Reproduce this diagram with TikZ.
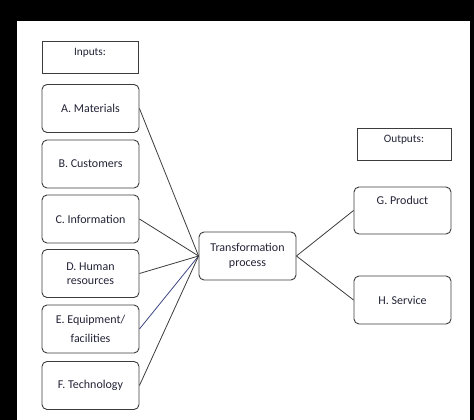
\documentclass[tikz,border=0pt]{standalone}
\usepackage{fontspec}
\setmainfont{Carlito}
\usetikzlibrary{positioning}
\definecolor{txtcol}{RGB}{35,35,55}
\definecolor{edgecol}{RGB}{60,60,60}
\definecolor{bluecol}{RGB}{60,70,130}
\tikzset{
    headbox/.style={rectangle, draw=edgecol, line width=0.9pt, minimum width=96pt, minimum height=32pt, text depth=10pt, font=\fontsize{11.3}{13}\selectfont, text=txtcol},
    itembox/.style={rectangle, rounded corners=5pt, draw=edgecol, line width=0.9pt, minimum width=97pt, minimum height=48pt, align=center, font=\fontsize{12}{14.5}\selectfont, text=txtcol},
    link/.style={draw=edgecol, line width=0.8pt}
}
\begin{document}
\begin{tikzpicture}[x=1pt,y=-1pt]
            \useasboundingbox (0,0) rectangle (474,420);
            % frame
            \fill[black] (0,0) rectangle (474,21);
            \fill[black] (0,21) rectangle (17,420);
            \fill[black] (470,21) rectangle (474,420);
            % Inputs
            \node[headbox] (inputs) at (90,57) {Inputs:};
            \node[itembox] (materials) at (90.5,108.5) {A. Materials};
            \node[itembox] (customers) at (90.5,164) {B. Customers};
            \node[itembox] (information) at (90.5,219) {C. Information};
            \node[itembox] (human) at (90.5,273.5) {D. Human\\resources};
            \node[itembox] (equipment) at (90.5,329) {E. Equipment/\\[5pt]facilities};
            \node[itembox] (technology) at (90.5,385.5) {F. Technology};
            % Process
            \node[itembox] (process) at (247.5,256) {Transformation\\process};
            % Outputs
            \node[headbox, minimum width=94pt] (outputs) at (404,144) {Outputs:};
            \node[itembox, minimum height=47pt, text depth=20pt] (product) at (402.5,210.5) {G. Product};
            \node[itembox] (service) at (402.5,300) {H. Service};

            \draw[link] (materials.east) -- (process.west);
            \draw[link] (information.east) -- (process.west);
            \draw[link] (human.east) -- (process.west);
            \draw[link, draw=bluecol] (equipment.east) -- (process.west);
            \draw[link] (technology.east) -- (process.west);

            \draw[link] (process.east) -- (product.west);
            \draw[link] (process.east) -- (service.west);

        \end{tikzpicture}
\end{document}
